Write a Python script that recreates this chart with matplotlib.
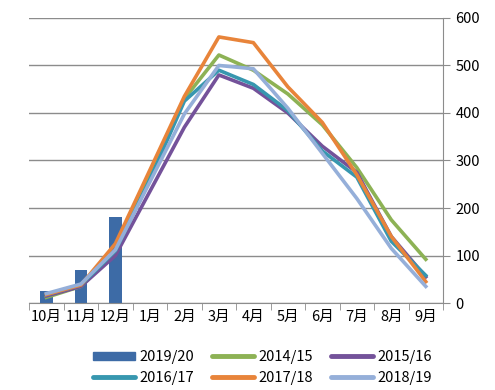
import numpy as np
import matplotlib.pyplot as plt
from matplotlib.patches import Patch
from matplotlib.lines import Line2D

plt.rcParams['font.family'] = ['Noto Sans CJK SC', 'DejaVu Sans']

months = ['10月', '11月', '12月', '1月', '2月', '3月', '4月', '5月', '6月', '7月', '8月', '9月']
bar_2019_20 = [25, 70, 181]
s_2014_15 = [12, 35, 110, 270, 430, 522, 490, 440, 375, 285, 175, 92]
s_2015_16 = [15, 35, 100, 235, 370, 480, 452, 400, 330, 275, 140, 55]
s_2016_17 = [18, 38, 110, 260, 425, 490, 460, 405, 320, 265, 130, 58]
s_2017_18 = [18, 38, 125, 280, 435, 560, 548, 455, 380, 270, 140, 45]
s_2018_19 = [20, 40, 112, 255, 398, 500, 493, 410, 315, 220, 115, 35]

line_series = [
    ('2014/15', s_2014_15, '#8DB255'),
    ('2015/16', s_2015_16, '#74529A'),
    ('2016/17', s_2016_17, '#3797AF'),
    ('2017/18', s_2017_18, '#E8843A'),
    ('2018/19', s_2018_19, '#95AFD9'),
]
bar_color = '#3D6BA6'

fig = plt.figure(figsize=(4.95, 3.9), dpi=100)
ax = fig.add_axes([0.059, 0.223, 0.836, 0.731])

x = np.arange(len(months))
ax.bar(x[:len(bar_2019_20)], bar_2019_20, width=0.37, color=bar_color, zorder=2)
for name, vals, col in line_series:
    ax.plot(x, vals, color=col, lw=2.6, zorder=3, solid_joinstyle='round')

ax.set_xlim(-0.5, len(months) - 0.5)
ax.set_ylim(0, 600)
ax.set_yticks(range(0, 601, 100))
ax.yaxis.tick_right()
ax.grid(axis='y', color='#8C8C8C', lw=1.0, zorder=0)
ax.set_axisbelow(True)

for s in ['top', 'left']:
    ax.spines[s].set_visible(False)
ax.spines['right'].set_color('#8C8C8C')
ax.spines['bottom'].set_color('#8C8C8C')

ax.set_xticks(x)
ax.set_xticklabels(months)
ax.tick_params(axis='x', length=0, labelsize=10.5, pad=5)
ax.set_xticks(np.arange(-0.5, len(months)), minor=True)
ax.tick_params(axis='x', which='minor', length=5, color='#8C8C8C', direction='out')
ax.tick_params(axis='y', length=5, color='#8C8C8C', labelsize=10.5, pad=4, direction='out')

handles = [Patch(color=bar_color, label='2019/20')]
for name, vals, col in line_series:
    handles.append(Line2D([], [], color=col, lw=3.5, label=name, solid_capstyle='round'))
# order so that rows read: 2019/20 2014/15 2015/16 / 2016/17 2017/18 2018/19
order = [0, 3, 1, 4, 2, 5]
fig.legend([handles[i] for i in order], [handles[i].get_label() for i in order],
           ncol=3, loc='lower center', bbox_to_anchor=(0.53, -0.02), frameon=False,
           fontsize=10.5, handlelength=2.9, handleheight=0.5, handletextpad=0.3,
           columnspacing=1.2, labelspacing=0.45)

fig.savefig('out.png', dpi=100)
